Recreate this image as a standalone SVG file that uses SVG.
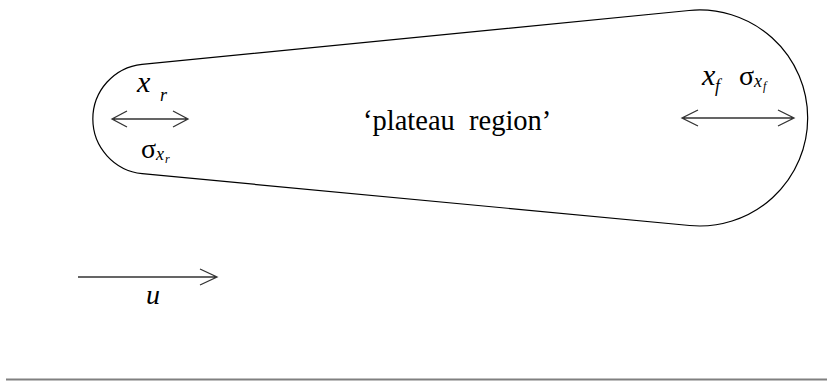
<svg xmlns="http://www.w3.org/2000/svg" width="827" height="381" viewBox="0 0 827 381">
<style>
.ln{fill:none;stroke:#000;stroke-width:1.2}
.ar{fill:none;stroke:#333;stroke-width:1.3}
text{font-family:'Times New Roman',Times,'Liberation Serif','DejaVu Serif','Noto Serif',serif;fill:#000}
.it{font-style:italic}
</style>
<rect width="827" height="381" fill="#fff"/>
<g id="plateau">
<path class="ln" d="M 142 64.3 L 689 10.5 A 108 108 0 1 1 689.6 225.5 L 142.2 173.7 A 55 55 0 0 1 142 64.3 Z"/>
<text x="363" y="130" font-size="28.5" xml:space="preserve">‘plateau  region’</text>
</g>
<g id="rear">
<text class="it" x="137" y="92" font-size="30">x</text>
<text class="it" x="160" y="101" font-size="18">r</text>
<text x="141" y="158" font-size="28">σ</text>
<text class="it" x="156" y="160" font-size="18">x</text>
<text class="it" x="165" y="163" font-size="12">r</text>
</g>
<g id="front">
<text class="it" x="702" y="85" font-size="30">x</text>
<text class="it" x="715" y="92" font-size="18">f</text>
<text x="739" y="85" font-size="28">σ</text>
<text class="it" x="754" y="87" font-size="18">x</text>
<text class="it" x="763" y="90" font-size="12">f</text>
</g>
<g id="flow">
<text class="it" x="146" y="304" font-size="28">u</text>
</g>
<g id="connectors">
<path class="ar" d="M 112 119 H 188 M 127 111 L 112 119 L 127 127 M 173 111 L 188 119 L 173 127"/>
<path class="ar" d="M 682 118 H 794 M 698 110 L 682 118 L 698 126 M 778 110 L 794 118 L 778 126"/>
<path class="ar" d="M 78 277 H 217 M 200 269 L 217 277 L 200 285"/>
</g>
<line x1="6" y1="379.5" x2="827" y2="379.5" stroke="#808080" stroke-width="2"/>
</svg>
